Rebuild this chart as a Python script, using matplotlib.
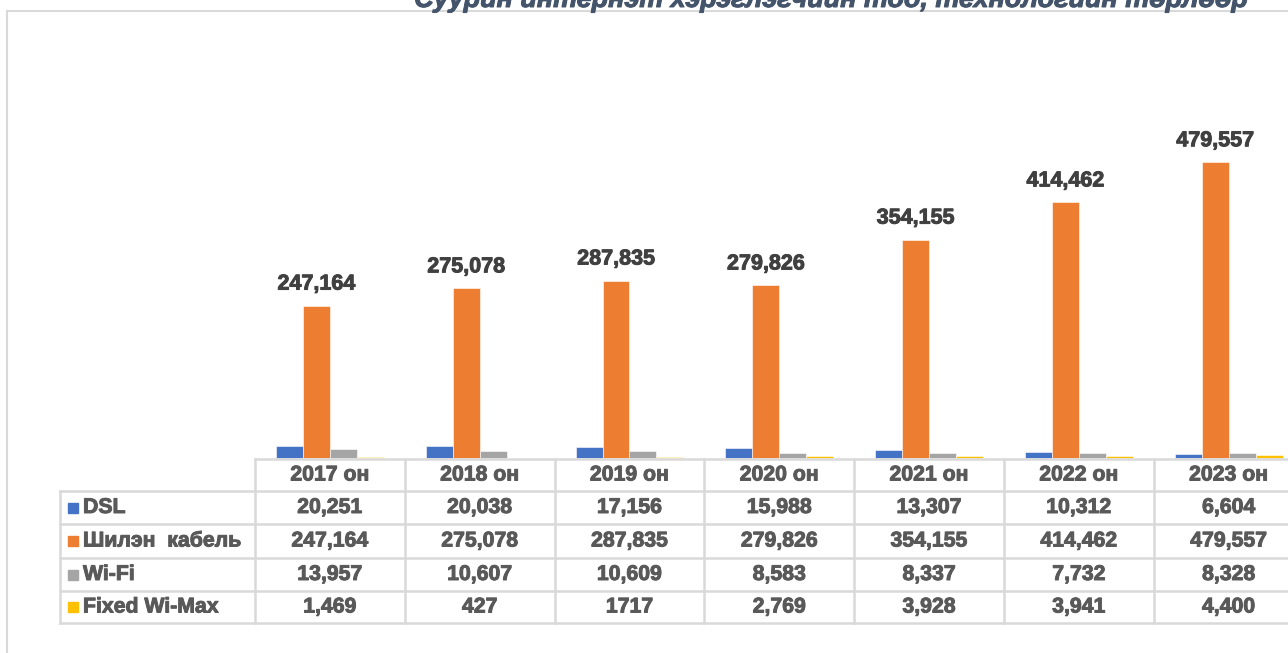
"""
Суурин интернэт хэрэглэгчийн тоо, технологийн төрлөөр
"""

import matplotlib.pyplot as plt
import numpy as np
from matplotlib.patches import Rectangle
from matplotlib.lines import Line2D
from matplotlib.transforms import blended_transform_factory
import matplotlib.patheffects as pe

years = ["2017 он", "2018 он", "2019 он", "2020 он", "2021 он", "2022 он", "2023 он"]
series_names = ["DSL", "Шилэн  кабель", "Wi-Fi", "Fixed Wi-Max"]
dsl = [20251, 20038, 17156, 15988, 13307, 10312, 6604]
fiber = [247164, 275078, 287835, 279826, 354155, 414462, 479557]
wifi = [13957, 10607, 10609, 8583, 8337, 7732, 8328]
wimax = [1469, 427, 1717, 2769, 3928, 3941, 4400]
# the source table prints 2019 Wi-Max without thousands separator
wimax_text = ["1,469", "427", "1717", "2,769", "3,928", "3,941", "4,400"]

colors = ["#4472C4", "#ED7D31", "#A5A5A5", "#FFC000"]
txt_col = "#595959"
grid_col = "#D9D9D9"

plt.rcParams['font.family'] = ['Liberation Sans', 'DejaVu Sans']

W, H = 1288, 653
fig = plt.figure(figsize=(W / 100, H / 100), dpi=100)

def fx(px):
    return px / W

def fy(py):
    return (H - py) / H

def thick(c):
    # Arial bold in the source looks a little heavier
    return [pe.withStroke(linewidth=0.7, foreground=c)]

# chart border (runs off the right/bottom edge)
fig.add_artist(Rectangle((fx(7), fy(700)), fx(1400), fy(11) - fy(700),
                         transform=fig.transFigure, fill=False,
                         edgecolor=grid_col, lw=1.5))
fig.text(fx(830), fy(7), "Суурин интернэт хэрэглэгчийн тоо, технологийн төрлөөр",
         ha='center', va='baseline', fontsize=19.4, fontweight='bold',
         style='italic', color="#44546A", path_effects=thick("#44546A"))

ax = fig.add_axes([fx(255), fy(458), fx(1303.6 - 255), fy(88) - fy(458)])
ax.set_xlim(-0.5, 6.5)
ax.set_ylim(0, 600000)
ax.axis('off')

x = np.arange(len(years))
bw = 0.18
data = [dsl, fiber, wifi, wimax]
for i, vals in enumerate(data):
    ax.bar(x + (i - 1.5) * bw, vals, width=bw, color=colors[i],
           edgecolor='white', linewidth=0.4, clip_on=False)

for xi, v in zip(x, fiber):
    ax.annotate(f"{v:,}", (xi - 0.5 * bw, v), xytext=(0, 16),
                textcoords='offset pixels', ha='center', va='baseline',
                fontsize=15.5, fontweight='bold', color="#404040",
                path_effects=thick("#404040"))

# data table below the plot
tr = blended_transform_factory(ax.transData, fig.transFigure)
rows_y = [459, 491, 524, 558, 591, 623]
x_left = ax.transData.inverted().transform((60, 0))[0]

def hline(y, x0, x1):
    fig.add_artist(Line2D([x0, x1], [fy(y), fy(y)], transform=tr,
                          color=grid_col, lw=1.8, clip_on=False))

def vline(xv, y0, y1):
    fig.add_artist(Line2D([xv, xv], [fy(y0), fy(y1)], transform=tr,
                          color=grid_col, lw=1.8, clip_on=False))

hline(rows_y[0], -0.5, 6.5)
for yy in rows_y[1:]:
    hline(yy, x_left, 6.5)
vline(x_left, rows_y[1], rows_y[-1])
for b in np.arange(-0.5, 7.0, 1.0):
    vline(b, rows_y[0], rows_y[-1])

tkw = dict(fontsize=15.3, fontweight='bold', color=txt_col, transform=tr,
           va='center', clip_on=False, path_effects=thick(txt_col))
hy = (rows_y[0] + rows_y[1]) / 2
for xi, yr in zip(x, years):
    ax.text(xi, fy(hy), yr, ha='center', **tkw)

table_text = [[f"{v:,}" for v in dsl], [f"{v:,}" for v in fiber],
              [f"{v:,}" for v in wifi], wimax_text]
for r in range(4):
    cy = (rows_y[r + 1] + rows_y[r + 2]) / 2
    fig.add_artist(Rectangle((fx(68), fy(cy + 5)), fx(10), fy(cy - 5) - fy(cy + 5),
                             transform=fig.transFigure, color=colors[r]))
    fig.text(fx(83), fy(cy), series_names[r], ha='left', va='center',
             fontsize=15.3, fontweight='bold', color=txt_col,
             path_effects=thick(txt_col))
    for xi, s in zip(x, table_text[r]):
        ax.text(xi, fy(cy), s, ha='center', **tkw)

plt.savefig("out.png", dpi=100)
